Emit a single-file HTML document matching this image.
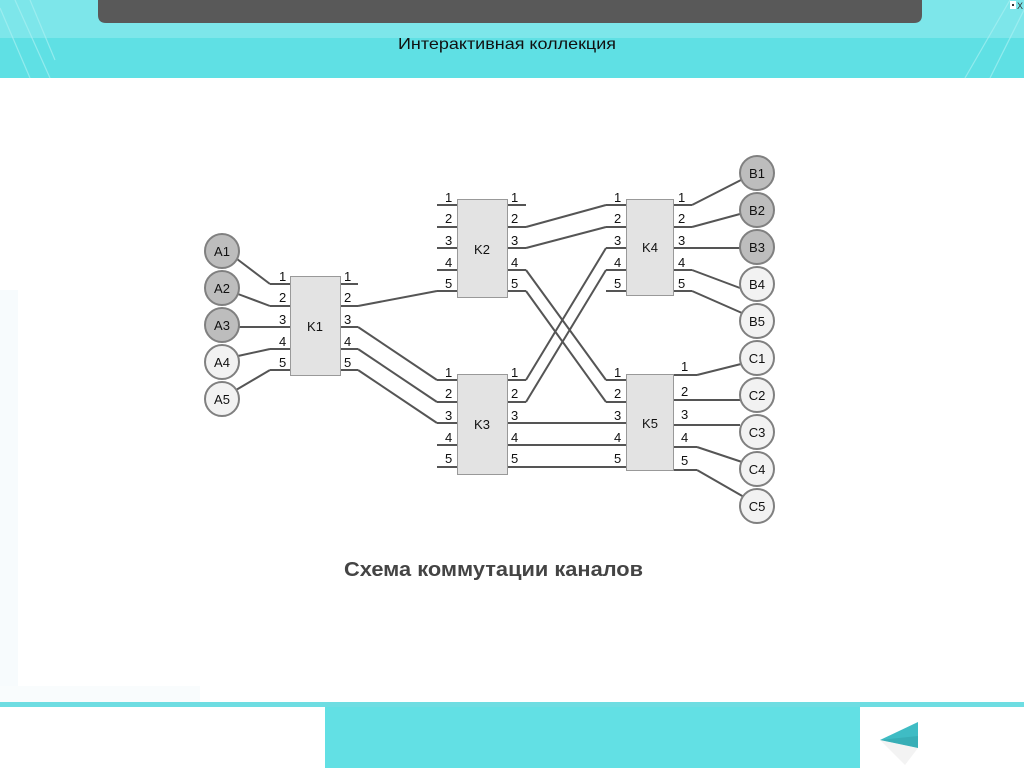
<!DOCTYPE html>
<html><head><meta charset="utf-8">
<style>
html,body{margin:0;padding:0;width:1024px;height:768px;overflow:hidden;background:#fff;font-family:"Liberation Sans",sans-serif;}
</style></head>
<body>
<svg width="1024" height="768" viewBox="0 0 1024 768" xmlns="http://www.w3.org/2000/svg" style="position:absolute;left:0;top:0">
<!-- header -->
<rect x="0" y="0" width="1024" height="78" fill="#5fe0e4"/>
<rect x="0" y="0" width="1024" height="38" fill="#7de6ea"/>
<g stroke="#a8f0f2" stroke-width="1.2" opacity="0.7">
<line x1="0" y1="8" x2="30" y2="78"/><line x1="15" y1="0" x2="50" y2="78"/><line x1="30" y1="0" x2="55" y2="60"/>
<line x1="1024" y1="10" x2="990" y2="78"/><line x1="1010" y1="0" x2="965" y2="78"/>
</g>
<path d="M98 0 H922 V15 Q922 23 914 23 H106 Q98 23 98 15 Z" fill="#595959"/>
<text x="507" y="49" font-size="16" text-anchor="middle" fill="#111" textLength="218" lengthAdjust="spacingAndGlyphs">Интерактивная коллекция</text>
<rect x="1010" y="1" width="6" height="8" fill="#fff"/><rect x="1012" y="4" width="2" height="2" fill="#333"/>
<text x="1017" y="9" font-size="9" fill="#333">X</text>
<!-- faint left strip -->
<rect x="0" y="290" width="18" height="410" fill="#f7fbfd"/>
<rect x="0" y="686" width="200" height="16" fill="#f9fcfd"/>
<!-- footer -->
<rect x="0" y="702" width="1024" height="5" fill="#6edde2"/>
<rect x="325" y="707" width="535" height="61" fill="#62e0e4"/>
<polygon points="880,740 918,722 918,748" fill="#3fbcc4"/>
<polygon points="880,740 918,736 918,748" fill="#38aeb6"/>
<polygon points="880,740 918,748 905,765" fill="#eee" opacity="0.7"/>

<!-- diagram -->
<g stroke="#555" stroke-width="2" fill="none">
<path d="M270 284H290M270 306H290M270 327H290M270 349H290M270 370H290"/>
<path d="M340 284H358M340 306H358M340 327H358M340 349H358M340 370H358"/>
<path d="M437 205H457M437 227H457M437 248H457M437 270H457M437 291H457"/>
<path d="M507 205H526M507 227H526M507 248H526M507 270H526M507 291H526"/>
<path d="M437 380H457M437 402H457M437 423H457M437 445H457M437 467H457"/>
<path d="M507 380H526M507 402H526M507 423H526M507 445H526M507 467H526"/>
<path d="M606 205H626M606 227H626M606 248H626M606 270H626M606 291H626"/>
<path d="M673 205H692M673 227H692M673 248H692M673 270H692M673 291H692"/>
<path d="M606 380H626M606 402H626M606 423H626M606 445H626M606 467H626"/>
<path d="M673 375H697M673 400H697M673 425H697M673 447H697M673 470H697"/>
<path d="M237 259L270 284M238 294L270 306M239 327H270M238 356L270 349M236 390L270 370"/>
<path d="M358 306L437 291M358 327L437 380M358 349L437 402M358 370L437 423"/>
<path d="M526 227L606 205M526 248L606 227M526 270L606 380M526 291L606 402"/>
<path d="M526 380L606 248M526 402L606 270"/>
<path d="M526 423H606M526 445H606M526 467H606"/>
<path d="M692 205L741 180M692 227L740 214M692 248H740M692 270L740 288M692 291L742 313"/>
<path d="M697 375L741 364M697 400H740M697 425H740M697 447L742 462M697 470L744 497"/>
</g>
<g fill="#e3e3e3" stroke="#999" stroke-width="1">
<rect x="290.5" y="276.5" width="50" height="99"/>
<rect x="457.5" y="199.5" width="50" height="98"/>
<rect x="457.5" y="374.5" width="50" height="100"/>
<rect x="626.5" y="199.5" width="47" height="96"/>
<rect x="626.5" y="374.5" width="47" height="96"/>
</g>
<g font-size="13" fill="#111" text-anchor="middle">
<text x="315" y="331">K1</text><text x="482" y="254">K2</text><text x="482" y="429">K3</text>
<text x="650" y="252">K4</text><text x="650" y="428">K5</text>
</g>
<g font-size="13" fill="#111">
<text x="279" y="281">1</text><text x="279" y="302">2</text><text x="279" y="324">3</text><text x="279" y="346">4</text><text x="279" y="367">5</text>
<text x="344" y="281">1</text><text x="344" y="302">2</text><text x="344" y="324">3</text><text x="344" y="346">4</text><text x="344" y="367">5</text>
<text x="445" y="202">1</text><text x="445" y="223">2</text><text x="445" y="245">3</text><text x="445" y="267">4</text><text x="445" y="288">5</text>
<text x="511" y="202">1</text><text x="511" y="223">2</text><text x="511" y="245">3</text><text x="511" y="267">4</text><text x="511" y="288">5</text>
<text x="445" y="377">1</text><text x="445" y="398">2</text><text x="445" y="420">3</text><text x="445" y="442">4</text><text x="445" y="463">5</text>
<text x="511" y="377">1</text><text x="511" y="398">2</text><text x="511" y="420">3</text><text x="511" y="442">4</text><text x="511" y="463">5</text>
<text x="614" y="202">1</text><text x="614" y="223">2</text><text x="614" y="245">3</text><text x="614" y="267">4</text><text x="614" y="288">5</text>
<text x="678" y="202">1</text><text x="678" y="223">2</text><text x="678" y="245">3</text><text x="678" y="267">4</text><text x="678" y="288">5</text>
<text x="614" y="377">1</text><text x="614" y="398">2</text><text x="614" y="420">3</text><text x="614" y="442">4</text><text x="614" y="463">5</text>
<text x="681" y="371">1</text><text x="681" y="396">2</text><text x="681" y="419">3</text><text x="681" y="442">4</text><text x="681" y="465">5</text>
</g>
<g stroke="#808080" stroke-width="2">
<circle cx="222" cy="251" r="17" fill="#bdbdbd"/><circle cx="222" cy="288" r="17" fill="#bdbdbd"/><circle cx="222" cy="325" r="17" fill="#bdbdbd"/>
<circle cx="222" cy="362" r="17" fill="#f2f2f2"/><circle cx="222" cy="399" r="17" fill="#f2f2f2"/>
<circle cx="757" cy="173" r="17" fill="#bdbdbd"/><circle cx="757" cy="210" r="17" fill="#bdbdbd"/><circle cx="757" cy="247" r="17" fill="#bdbdbd"/>
<circle cx="757" cy="284" r="17" fill="#f2f2f2"/><circle cx="757" cy="321" r="17" fill="#f2f2f2"/>
<circle cx="757" cy="358" r="17" fill="#f2f2f2"/><circle cx="757" cy="395" r="17" fill="#f2f2f2"/><circle cx="757" cy="432" r="17" fill="#f2f2f2"/>
<circle cx="757" cy="469" r="17" fill="#f2f2f2"/><circle cx="757" cy="506" r="17" fill="#f2f2f2"/>
</g>
<g font-size="13" fill="#111" text-anchor="middle">
<text x="222" y="256">A1</text><text x="222" y="293">A2</text><text x="222" y="330">A3</text><text x="222" y="367">A4</text><text x="222" y="404">A5</text>
<text x="757" y="178">B1</text><text x="757" y="215">B2</text><text x="757" y="252">B3</text><text x="757" y="289">B4</text><text x="757" y="326">B5</text>
<text x="757" y="363">C1</text><text x="757" y="400">C2</text><text x="757" y="437">C3</text><text x="757" y="474">C4</text><text x="757" y="511">C5</text>
</g>
<text x="344" y="576" font-size="20" font-weight="bold" fill="#444" textLength="299" lengthAdjust="spacingAndGlyphs">Схема коммутации каналов</text>
</svg>
</body></html>
